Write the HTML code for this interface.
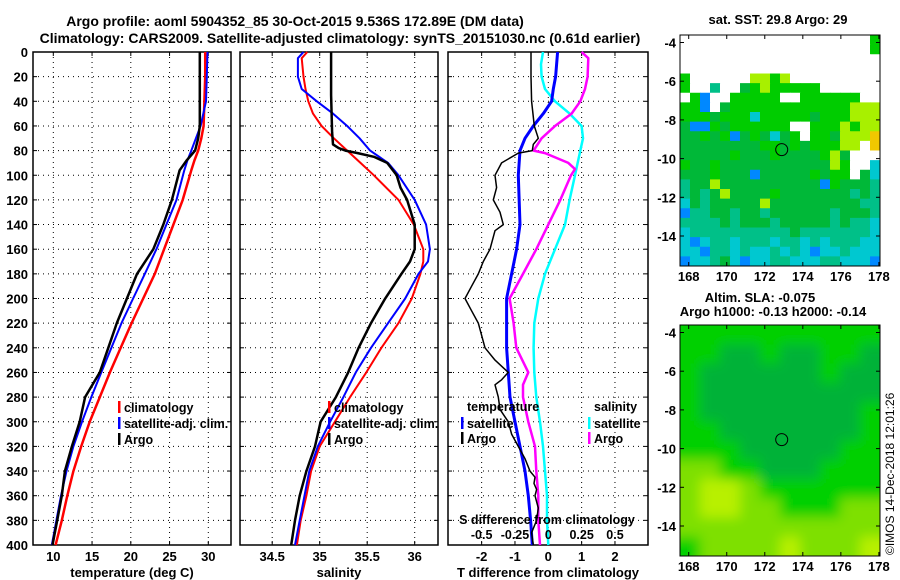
<!DOCTYPE html>
<html><head><meta charset="utf-8">
<style>
html,body{margin:0;padding:0;background:#fff;}
svg{display:block;font-family:"Liberation Sans",Arial,sans-serif;font-weight:bold;}
</style></head>
<body>
<svg id="chart" width="900" height="580" viewBox="0 0 900 580" xmlns="http://www.w3.org/2000/svg">
<defs><filter id="blur" x="0" y="0" width="1" height="1"><feGaussianBlur stdDeviation="6"/></filter>
<clipPath id="slaclip"><rect x="680" y="325" width="200" height="231"/></clipPath></defs>
<text x="295" y="26" font-size="14" text-anchor="middle">Argo profile: aoml 5904352_85 30-Oct-2015 9.536S 172.89E (DM data)</text>
<text x="340" y="43" font-size="14" text-anchor="middle">Climatology: CARS2009. Satellite-adjusted climatology: synTS_20151030.nc (0.61d earlier)</text>
<g id="g1"></g>
<g id="g2"></g>
<g id="g3"></g>
<g id="g4"></g>
<g id="g5"></g>
<text x="778" y="24" font-size="13" text-anchor="middle">sat. SST: 29.8 Argo: 29</text>
<text x="760" y="302" font-size="13" text-anchor="middle">Altim. SLA: -0.075</text>
<text x="773" y="316" font-size="13" text-anchor="middle">Argo h1000: -0.13 h2000: -0.14</text>
<text transform="translate(894,555) rotate(-90)" font-size="12" font-weight="normal">©IMOS 14-Dec-2018 12:01:26</text>
</svg>
<script>
// ---- data ----
const depthTicks = [0,20,40,60,80,100,120,140,160,180,200,220,240,260,280,300,320,340,360,380,400];
const tTicks = [10,15,20,25,30];
const sTicks = [34.5,35,35.5,36];
const dTicks = [-2,-1,0,1,2];
const dsTicks = [-0.5,-0.25,0,0.25,0.5];
const dsTickLabels = ["-0.5","-0.25","0","0.25","0.5"];

const tDepths = [0,20,40,60,70,80,88,96,120,140,160,180,200,220,240,260,280,300,320,340,360,380,400];
const tClim = [29.6,29.6,29.5,29.4,29.1,28.7,28.2,27.8,26.7,25.5,24.3,23.1,21.6,20.1,18.7,17.3,16.0,14.7,13.6,12.6,11.8,11.1,10.3];
const tSat = [29.9,29.8,29.7,29.0,28.4,27.8,27.3,26.9,25.9,24.6,23.3,21.8,20.3,18.8,17.5,16.2,14.9,13.7,12.6,11.7,11.0,10.4,9.8];
const tArgo = [28.9,28.9,28.9,28.9,28.7,28.3,27.2,26.3,25.3,24.2,22.9,20.8,19.5,18.2,17.1,16.0,14.1,13.4,12.4,11.5,11.1,10.5,9.9];

const sDepths = [0,5,20,30,40,50,60,70,80,90,100,120,140,160,170,180,200,220,240,260,280,300,320,340,360,380,400];
const sClim = [34.87,34.81,34.83,34.85,34.88,34.93,35.02,35.15,35.29,35.43,35.57,35.83,35.99,36.09,36.09,36.06,35.97,35.83,35.65,35.49,35.32,35.16,35.0,34.91,34.86,34.8,34.76];
const sSat = [34.83,34.77,34.77,34.81,34.97,35.14,35.29,35.42,35.53,35.72,35.83,36.0,36.12,36.16,36.14,36.04,35.9,35.72,35.54,35.38,35.25,35.11,34.98,34.89,34.84,34.79,34.74];
const sArgoDepths = [0,35,65,75,78,80,82,85,90,100,110,120,140,160,170,180,200,220,240,260,280,300,320,340,360,380,400];
const sArgo = [35.12,35.12,35.13,35.14,35.2,35.27,35.4,35.57,35.71,35.81,35.85,35.92,36.0,36.0,35.95,35.86,35.69,35.54,35.41,35.3,35.17,35.01,34.95,34.86,34.79,34.74,34.7];

const dtSatDepths = [0,20,30,40,50,60,70,80,100,140,160,180,200,220,240,260,280,300,320,340,360,380,400];
const dtSat = [0.28,0.22,0.15,0.1,-0.15,-0.45,-0.7,-0.85,-0.9,-0.85,-0.95,-1.1,-1.25,-1.25,-1.25,-1.2,-1.15,-1.0,-0.85,-0.7,-0.6,-0.53,-0.48];
const dtArgoDepths = [0,20,40,60,70,75,80,82,90,100,110,120,130,140,145,160,170,180,190,200,210,220,240,250,260,266,270,280,290,300,310,320,330,340,345,350,355,360,370,380,390,400];
const dtArgo = [-0.52,-0.52,-0.5,-0.42,-0.3,-0.45,-0.48,-0.9,-1.4,-1.6,-1.55,-1.65,-1.45,-1.35,-1.6,-1.75,-1.95,-2.1,-2.3,-2.5,-2.3,-2.1,-1.9,-1.6,-1.2,-1.4,-1.6,-1.5,-1.45,-1.2,-1.1,-0.9,-0.7,-0.55,-0.4,-0.43,-0.35,-0.4,-0.3,-0.35,-0.5,-0.45];
const dsSatDepths = [0,10,20,30,40,50,60,70,80,100,120,140,160,180,200,220,240,260,280,300,320,340,360,380,400];
const dsSat = [-0.04,-0.055,-0.05,-0.025,0.05,0.16,0.25,0.26,0.24,0.2,0.16,0.125,0.05,-0.025,-0.075,-0.105,-0.11,-0.105,-0.09,-0.0625,-0.04,-0.025,-0.01,-0.01,0];
const dsArgoDepths = [0,5,20,30,40,50,60,70,80,82,90,95,100,120,140,160,180,200,220,240,260,270,280,300,320,340,360,380,400];
const dsArgo = [0.25,0.3,0.295,0.275,0.24,0.175,0.05,-0.05,-0.11,-0.025,0.15,0.2,0.17,0.09,0,-0.09,-0.19,-0.29,-0.26,-0.24,-0.15,-0.19,-0.19,-0.15,-0.1,-0.09,-0.075,-0.075,-0.0625];

const mapLonTicks = [168,170,172,174,176,178];
const mapLatTicks = [-4,-6,-8,-10,-12,-14];
const argoLon = 172.89, argoLat = -9.536;
const sstGrid = [
"WWWWWWWWWWWWWWWWWWWG","WWWWWWWWWWWWWWWWWWWG","WWWWWWWWWWWWWWWWWWWW","WWWWWWWWWWWWWWWWWWWW",
"GWWWWWWYYGYWWWWWWWWW","GWWTWWKGYGGGGGWWWWWW","WGBWWGGGGGWWGGGGGGWW","GGBWKGGGGGGGGGGGGYYY",
"GGGKGGGCGGGGGKGGGYYY","KBBGKGGGGGGWWGGGYGYY","KKGKGBKGKCKGWGGKYYYO","KKKKKKKKGGKGKGGGYYWO",
"KKKKKGKKKGKKKKGYKWWW","GKKGKKKKKKKKKKKYGWWC","KKKGKKKBKKKKKGKGGWKC","TKKYKKKKKKKKKKBGKKKT",
"TKTKYKKKKGKKKKKKKTKT","CKTKKKKKYKKKKKKKKKTT","BTTKKTKKTKKKKKKTKKKT","TTTTKTKKKTKKKKKTKTTC",
"CTTTTTTTTTTKTTTTTTTC","CBCTTCTTTCTTCTCTTTCC","CCBTTCTCCTCTCBCCTCCC","BCCTKCBCCTTCCCTTCCCB"];
const slaGrid = [
"GGGGGGGGGG","GGMMGMMGGM","GMMMMMMGMM","GMMMMMMMMM","GMMMMMMMMG","GGMMMMMMMG",
"GGGMMMMMGG","LLGGMMMGGG","LYYLGGGGGG","LYYLLGGGLL","LLLLLLLLLL","GLLLLYLLLY"];

// ---- helpers ----
const NS="http://www.w3.org/2000/svg";
function mk(parent, tag, attrs, text){const e=document.createElementNS(NS,tag);for(const k in attrs)e.setAttribute(k,attrs[k]);if(text!==undefined)e.textContent=text;parent.appendChild(e);return e;}
const Y0=52, Y1=545;
const yD = d => Y0 + d*(Y1-Y0)/400;
function linScale(d0,d1,r0,r1){return v => r0 + (v-d0)*(r1-r0)/(d1-d0);}

function panel(g, x0, x1, xs, xticks, xlabels, showY){
  for(const d of depthTicks){
    const y=yD(d);
    if(d>0&&d<400){
      const gl=mk(g,'line',{x1:x0,x2:x1,y1:y,y2:y,stroke:'#000','stroke-width':1,'stroke-dasharray':'1,4'});
      
      
    }
    mk(g,'line',{x1:x0,x2:x0+4,y1:y,y2:y,stroke:'#000'});
    mk(g,'line',{x1:x1-4,x2:x1,y1:y,y2:y,stroke:'#000'});
    if(showY){
      const t=mk(g,'text',{x:x0-5,y:y+5,'font-size':13,'text-anchor':'end'},String(d));
      
      
    }
  }
  xticks.forEach((v,i)=>{
    const x=xs(v);
    const gl=mk(g,'line',{x1:x,x2:x,y1:Y0,y2:Y1,stroke:'#000','stroke-width':1,'stroke-dasharray':'1,4'});
    
    
    mk(g,'line',{x1:x,x2:x,y1:Y1-4,y2:Y1,stroke:'#000'});
    mk(g,'line',{x1:x,x2:x,y1:Y0,y2:Y0+4,stroke:'#000'});
    const t=mk(g,'text',{x:x,y:561,'font-size':13,'text-anchor':'middle'},xlabels[i]);
    
    
  });
  const fr=mk(g,'rect',{x:x0,y:Y0,width:x1-x0,height:Y1-Y0,fill:'none',stroke:'#000','stroke-width':1.5});
  
  
}
function line(g, xs, depths, vals, color, w, name){
  const pts = vals.map((v,i)=>xs(v).toFixed(1)+','+yD(depths[i]).toFixed(1)).join(' ');
  const p=mk(g,'polyline',{points:pts,fill:'none',stroke:color,'stroke-width':w,'stroke-linejoin':'round'});
  
  
}
function legend(g,x,y,color,label,name){
  mk(g,'rect',{x:x,y:y-10,width:2.5,height:12,fill:color});
  const t=mk(g,'text',{x:x+6,y:y+1,'font-size':12.5},label);
  
  
}

// ---- panel 1 ----
const g1=document.getElementById('g1');
const xT=linScale(10,30,53.3,208.3);
panel(g1,33,231,xT,tTicks,tTicks.map(String),true);
line(g1,xT,tDepths,tClim,'#f00',2.5,'temperature-climatology-line');
line(g1,xT,tDepths,tSat,'#00f',2,'temperature-satellite-line');
line(g1,xT,tDepths,tArgo,'#000',2.5,'temperature-argo-line');
legend(g1,118,411,'#f00','climatology','legend-climatology');
legend(g1,118,427,'#00f','satellite-adj. clim.','legend-satellite-adj');
legend(g1,118,443,'#000','Argo','legend-argo');
const a1=mk(g1,'text',{x:132,y:577,'font-size':13,'text-anchor':'middle'},'temperature (deg C)');



// ---- panel 2 ----
const g2=document.getElementById('g2');
const xS=linScale(35,36,319.7,414.7);
panel(g2,240,438,xS,sTicks,sTicks.map(String),false);
line(g2,xS,sDepths,sClim,'#f00',2,'salinity-climatology-line');
line(g2,xS,sDepths,sSat,'#00f',2,'salinity-satellite-line');
line(g2,xS,sArgoDepths,sArgo,'#000',2.5,'salinity-argo-line');
legend(g2,328,411,'#f00','climatology','legend-climatology');
legend(g2,328,427,'#00f','satellite-adj. clim.','legend-satellite-adj');
legend(g2,328,443,'#000','Argo','legend-argo');
const a2=mk(g2,'text',{x:339,y:577,'font-size':13,'text-anchor':'middle'},'salinity');



// ---- panel 3 ----
const g3=document.getElementById('g3');
const xDT=linScale(-3,3,448.3,648.3);
const xDS=linScale(-0.75,0.75,448.3,648.3);
panel(g3,448,648,xDT,dTicks,dTicks.map(String),false);
line(g3,xDS,dsSatDepths,dsSat,'#0ff',2.5,'salinity-satellite-diff-line');
line(g3,xDS,dsArgoDepths,dsArgo,'#f0f',2.5,'salinity-argo-diff-line');
line(g3,xDT,dtSatDepths,dtSat,'#00f',3,'temperature-satellite-diff-line');
line(g3,xDT,dtArgoDepths,dtArgo,'#000',1.5,'temperature-argo-diff-line');
const lt=mk(g3,'text',{x:467,y:411,'font-size':12.5},'temperature');


const ls=mk(g3,'text',{x:594,y:411,'font-size':12.5},'salinity');


legend(g3,461,427,'#00f','satellite','legend-temp-satellite');
legend(g3,461,442,'#000','Argo','legend-temp-argo');
legend(g3,588,427,'#0ff','satellite','legend-sal-satellite');
legend(g3,588,442,'#f0f','Argo','legend-sal-argo');
const st=mk(g3,'text',{x:547,y:524,'font-size':12.5,'text-anchor':'middle'},'S difference from climatology');


dsTicks.forEach((v,i)=>{
  const t=mk(g3,'text',{x:xDS(v),y:539,'font-size':12.5,'text-anchor':'middle'},dsTickLabels[i]);
  
  
});
const a3=mk(g3,'text',{x:548,y:577,'font-size':13,'text-anchor':'middle'},'T difference from climatology');



// ---- maps ----
const sstColors={W:'#ffffff',G:'#00cc00',K:'#00b838',T:'#00c088',C:'#00c8d0',B:'#0088ff',Y:'#a8f000',O:'#f0c800'};
const slaColors={G:'#00d000',M:'#00b238',L:'#7ee000',Y:'#b8f000'};
function drawMap(g, top, bottom, grid, colors, blur){
  const x0=680,x1=880;
  const lonS=linScale(168,178,688.7,878.9);
  const latS=linScale(-4,-14,top+7.5,top+201);
  const cg=mk(g,'g',blur?{filter:'url(#blur)','clip-path':'url(#slaclip)'}:{});
  const rows=grid.length, cols=grid[0].length;
  const cw=(x1-x0)/cols, ch=(bottom-top)/rows;
  const pad=blur?12:0;
  for(let r=0;r<rows;r++)for(let c=0;c<cols;c++){
    let x=x0+c*cw, y=top+r*ch, w=cw+0.5, h=ch+0.5;
    if(blur){ if(c===0){x-=pad;w+=pad;} if(c===cols-1){w+=pad;} if(r===0){y-=pad;h+=pad;} if(r===rows-1){h+=pad;} }
    const cell=mk(cg,'rect',{x:x,y:y,width:w,height:h,fill:colors[grid[r][c]]});
    
    
  }
  const fr=mk(g,'rect',{x:x0,y:top,width:x1-x0,height:bottom-top,fill:'none',stroke:'#000','stroke-width':1});
  
  
  for(const la of mapLatTicks){
    const y=latS(la);
    mk(g,'line',{x1:x0,x2:x0+4,y1:y,y2:y,stroke:'#000'});
    mk(g,'line',{x1:x1-4,x2:x1,y1:y,y2:y,stroke:'#000'});
    const t=mk(g,'text',{x:676,y:y+5,'font-size':13,'text-anchor':'end'},String(la));
    
    
  }
  for(const lo of mapLonTicks){
    const x=lonS(lo);
    mk(g,'line',{x1:x,x2:x,y1:bottom-4,y2:bottom,stroke:'#000'});
    mk(g,'line',{x1:x,x2:x,y1:top,y2:top+4,stroke:'#000'});
    const t=mk(g,'text',{x:x,y:bottom+15,'font-size':13,'text-anchor':'middle'},String(lo));
    
    
  }
  const c=mk(g,'circle',{cx:lonS(argoLon),cy:latS(argoLat),r:6,fill:'none',stroke:'#000','stroke-width':1});
  
  
}
drawMap(document.getElementById('g4'),35,266,sstGrid,sstColors,false);
drawMap(document.getElementById('g5'),325,556,slaGrid,slaColors,true);
</script>
</body></html>
